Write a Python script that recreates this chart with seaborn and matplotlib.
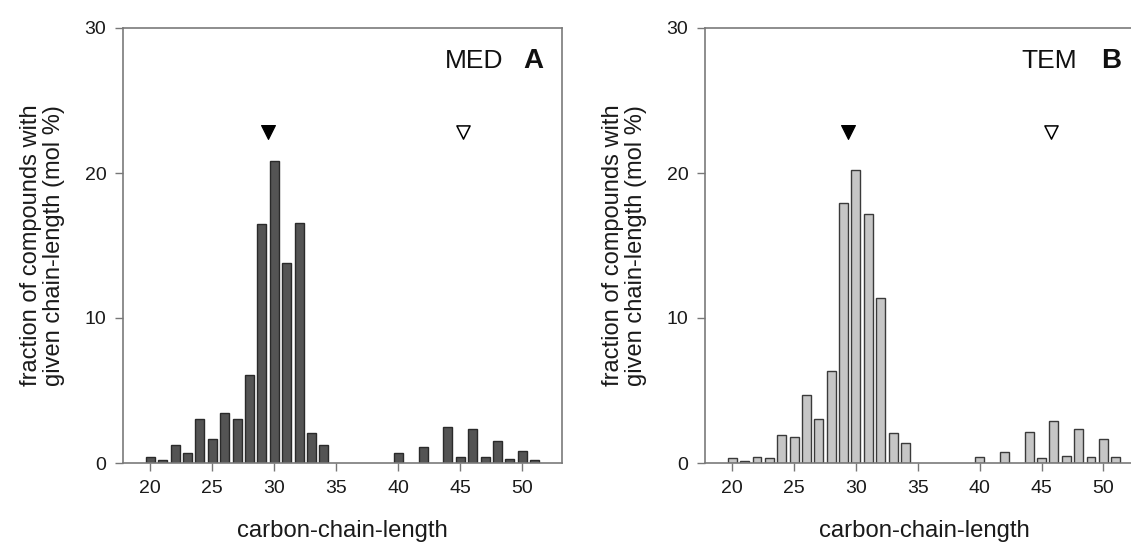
import numpy as np
import pandas as pd
import matplotlib
matplotlib.use("Agg")
import matplotlib.pyplot as plt
import seaborn as sns

# ---- data ----
chain_med = [20, 21, 22, 23, 24, 25, 26, 27, 28, 29, 30, 31, 32, 33, 34, 40, 42, 44, 45, 46, 47, 48, 49, 50, 51]
frac_med = [0.41, 0.18, 1.26, 0.69, 3.06, 1.68, 3.47, 3.01, 6.09, 16.5, 20.8, 13.8, 16.55, 2.09, 1.26,
            0.69, 1.10, 2.48, 0.41, 2.34, 0.41, 1.52, 0.28, 0.83, 0.23]

chain_tem = [20, 21, 22, 23, 24, 25, 26, 27, 28, 29, 30, 31, 32, 33, 34, 40, 42, 44, 45, 46, 47, 48, 49, 50, 51]
frac_tem = [0.37, 0.14, 0.41, 0.34, 1.91, 1.79, 4.67, 3.01, 6.34, 17.95, 20.18, 17.15, 11.38, 2.07, 1.38,
            0.41, 0.76, 2.14, 0.37, 2.87, 0.48, 2.32, 0.41, 1.63, 0.41]

# triangle markers (mean chain lengths of the two groups)
marker_med_x = [29.5, 45.2]
marker_tem_x = [29.35, 45.8]
marker_y = 22.8

x_ticks = [20, 25, 30, 35, 40, 45, 50]
y_ticks = [0, 10, 20, 30]
panel_names = ["MED", "TEM"]
panel_letters = ["A", "B"]
xlabel = "carbon-chain-length"
ylabel = "fraction of compounds with\ngiven chain-length (mol %)"

# ---- style ----
sns.set_style("ticks")
plt.rcParams["font.family"] = ["Liberation Sans", "DejaVu Sans"]

W, H = 1131, 548
fig = plt.figure(figsize=(W / 100, H / 100), dpi=100)

def px_axes(left, right, top, bottom):
    return fig.add_axes([left / W, (H - bottom) / H, (right - left) / W, (bottom - top) / H])

axA = px_axes(123, 562, 28, 463)
axB = px_axes(705, 1143, 28, 463)

panels = [
    (axA, chain_med, frac_med, marker_med_x, "#545454", "#2a2a2a", 0.866, 0.957),
    (axB, chain_tem, frac_tem, marker_tem_x, "#c6c6c6", "#3a3a3a", 0.849, 0.950),
]

for i, (ax, xs, ys, mx, fc, ec, name_x, letter_x) in enumerate(panels):
    df = pd.DataFrame({"chain": xs, "frac": ys})
    sns.barplot(data=df, x="chain", y="frac", native_scale=True, width=0.72,
                color=fc, edgecolor=ec, linewidth=1.0, saturation=1, ax=ax)
    mdf = pd.DataFrame({"x": mx, "y": [marker_y] * len(mx), "kind": ["filled", "open"]})
    sns.scatterplot(data=mdf[mdf.kind == "filled"], x="x", y="y", marker="v", s=100,
                    color="black", edgecolor="black", linewidth=0.8, ax=ax, legend=False)
    sns.scatterplot(data=mdf[mdf.kind == "open"], x="x", y="y", marker="v", s=90,
                    facecolor="white", edgecolor="black", linewidth=1.1, ax=ax, legend=False)

    ax.set_xlim(17.8, 53.2)
    ax.set_ylim(0, 30)
    ax.set_xticks(x_ticks)
    ax.set_xticklabels([str(t) for t in x_ticks])
    ax.set_yticks(y_ticks)
    ax.set_yticklabels([str(t) for t in y_ticks])
    ax.tick_params(axis="both", direction="out", length=6, width=1.0, colors="#777777",
                   labelcolor="#1a1a1a", labelsize=14, pad=6)
    for side in ["left", "right", "top", "bottom"]:
        ax.spines[side].set_visible(True)
        ax.spines[side].set_color("#7a7a7a")
        ax.spines[side].set_linewidth(1.2)
    ax.set_xlabel(xlabel, fontsize=17.2, color="#1a1a1a", labelpad=17)
    ax.set_ylabel(ylabel, fontsize=17, color="#1a1a1a", labelpad=14, linespacing=1.06)

    ax.text(name_x, 0.908, panel_names[i], transform=ax.transAxes, ha="right", va="baseline",
            fontsize=19, color="#111111")
    ax.text(letter_x, 0.908, panel_letters[i], transform=ax.transAxes, ha="right", va="baseline",
            fontsize=20, fontweight="bold", color="#111111")

fig.savefig("out.png", dpi=100)
